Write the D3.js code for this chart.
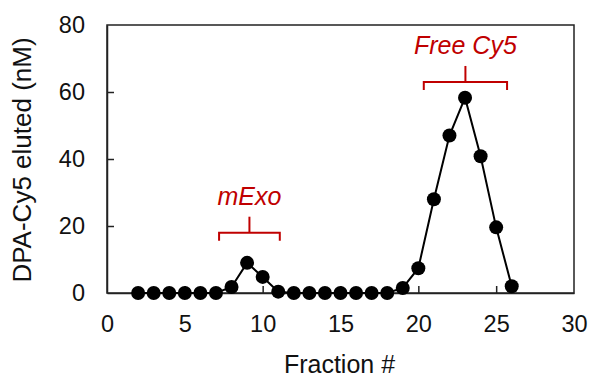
<!DOCTYPE html>
<html>
<head>
<meta charset="utf-8">
<script src="https://cdn.jsdelivr.net/npm/d3@7"></script>
<style>
  body { margin: 0; background: #fff; }
  text { font-family: "Liberation Sans", Arial, sans-serif; }
</style>
</head>
<body>
<div class="vis-chart"></div>
<script>
const fractions = [2, 3, 4, 5, 6, 7, 8, 9, 10, 11, 12, 13, 14, 15, 16, 17, 18, 19, 20, 21, 22, 23, 24, 25, 26];
const eluted = [0, 0, 0, 0, 0, 0, 1.8, 9, 4.8, 0.4, 0, 0, 0, 0, 0, 0, 0, 1.5, 7.4, 28, 47, 58.3, 40.8, 19.6, 2];
const xTicks = [0, 5, 10, 15, 20, 25, 30];
const yTicks = [0, 20, 40, 60, 80];
const peakLabels = ['mExo', 'Free Cy5'];
const peakFrom = [7.2, 20.35];
const peakTo = [11.1, 25.7];
const peakLevel = [18, 63];

const draw = () => {
  const margin = { top: 25, right: 16, bottom: 85, left: 107 };
  const width = 590 - margin.left - margin.right;
  const height = 378 - margin.top - margin.bottom;
  const svg = d3
    .select('.vis-chart')
    .append('svg')
    .attr('width', 590)
    .attr('height', 378)
    .append('g')
    .attr('transform', `translate(${margin.left},${margin.top})`);

  const x = d3.scaleLinear().domain([0, 30]).range([0, width]);
  const y = d3.scaleLinear().domain([0, 80]).range([height, 0]);

  // frame
  svg.append('rect')
    .attr('width', width)
    .attr('height', height)
    .attr('fill', 'none')
    .attr('stroke', '#222')
    .attr('stroke-width', 1.5);

  // axes, ticks pointing inward
  const xAxis = svg.append('g')
    .attr('transform', `translate(0,${height})`)
    .call(d3.axisBottom(x).tickValues(xTicks).tickSizeInner(-7).tickSizeOuter(0).tickPadding(22));
  const yAxis = svg.append('g')
    .call(d3.axisLeft(y).tickValues(yTicks).tickSizeInner(-7).tickSizeOuter(0).tickPadding(22));
  [xAxis, yAxis].forEach((g) => {
    g.select('.domain').attr('stroke', '#222').attr('stroke-width', 1.5);
    g.selectAll('.tick line').attr('stroke', '#222').attr('stroke-width', 1.5);
    g.selectAll('.tick text')
      .attr('font-size', 23.5)
      .attr('fill', '#111')
      .style('font-family', '"Liberation Sans", Arial, sans-serif');
  });
  xAxis.selectAll('.tick').filter((d) => d === 0 || d === 30).select('line').remove();
  yAxis.selectAll('.tick').filter((d) => d === 0 || d === 80).select('line').remove();

  // axis titles
  svg.append('text')
    .attr('x', width / 2 - 1)
    .attr('y', height + 80)
    .attr('text-anchor', 'middle')
    .attr('font-size', 25)
    .attr('fill', '#111')
    .text('Fraction #');
  svg.append('text')
    .attr('transform', `translate(${-76},${height / 2 + 1}) rotate(-90)`)
    .attr('text-anchor', 'middle')
    .attr('font-size', 26)
    .attr('fill', '#111')
    .text('DPA-Cy5 eluted (nM)');

  const data = fractions.map((f, i) => ({ f, v: eluted[i] }));

  // line
  svg.append('path')
    .datum(data)
    .attr('fill', 'none')
    .attr('stroke', '#000')
    .attr('stroke-width', 2)
    .attr('d', d3.line().x((d) => x(d.f)).y((d) => y(d.v)));

  // markers
  svg.selectAll('circle.pt')
    .data(data)
    .enter()
    .append('circle')
    .attr('class', 'pt')
    .attr('cx', (d) => x(d.f))
    .attr('cy', (d) => y(d.v))
    .attr('r', 7)
    .attr('fill', '#000');

  // peak brackets
  const red = '#C00000';
  const peaks = peakLabels.map((label, i) => ({
    label, from: peakFrom[i], to: peakTo[i], level: peakLevel[i]
  }));
  const g = svg.selectAll('g.peak').data(peaks).enter().append('g').attr('class', 'peak');
  g.append('path')
    .attr('fill', 'none')
    .attr('stroke', red)
    .attr('stroke-width', 2)
    .attr('d', (d) => {
      const x1 = x(d.from);
      const x2 = x(d.to);
      const yy = y(d.level);
      return `M${x1},${yy + 8}V${yy}H${x2}V${yy + 8}`;
    });
  g.append('path')
    .attr('fill', 'none')
    .attr('stroke', red)
    .attr('stroke-width', 2)
    .attr('d', (d) => {
      const xc = (x(d.from) + x(d.to)) / 2;
      const yy = y(d.level);
      return `M${xc},${yy}V${yy - 16}`;
    });
  g.append('text')
    .attr('x', (d) => (x(d.from) + x(d.to)) / 2)
    .attr('y', (d) => y(d.level) - 28)
    .attr('text-anchor', 'middle')
    .attr('font-size', 25)
    .attr('font-style', 'italic')
    .attr('fill', red)
    .text((d) => d.label);
};

draw();
</script>
</body>
</html>
